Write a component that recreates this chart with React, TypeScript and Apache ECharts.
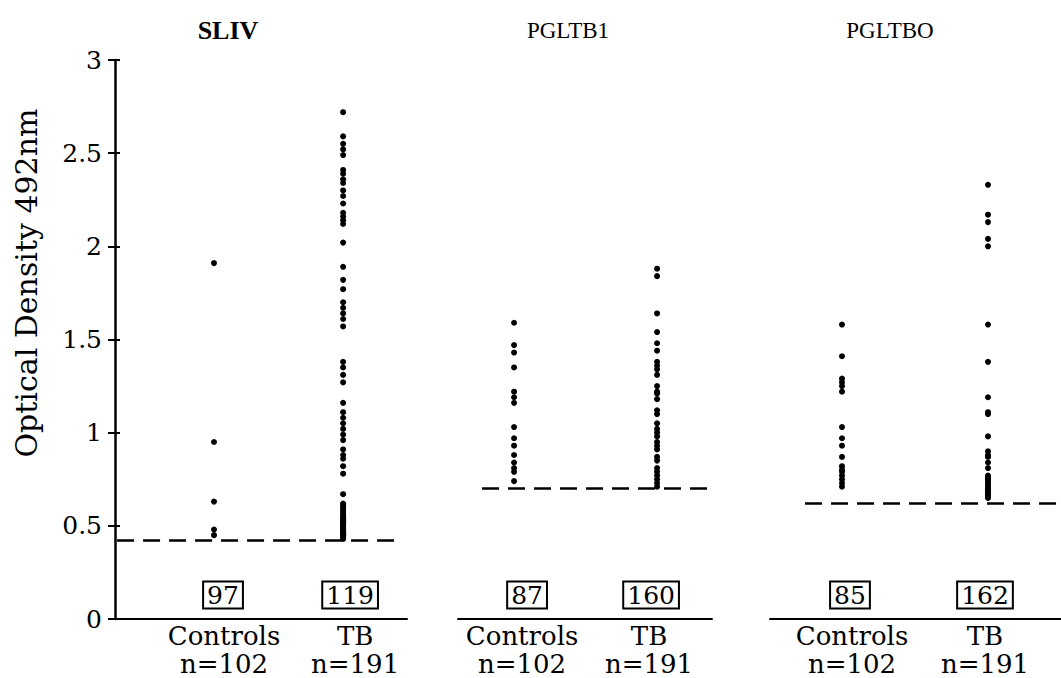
import React, { useEffect, useRef } from "react";
import * as echarts from "echarts";

// ---- data ----
const panelTitles = ["SLIV", "PGLTB1", "PGLTBO"];
const groupNames = ["Controls", "TB"];
const groupSizes = ["n=102", "n=191"];
const yAxisTitle = "Optical Density 492nm";
const cutoffs = [0.42, 0.7, 0.62];
const belowCutoffCounts = [
  [97, 119],
  [87, 160],
  [85, 162],
];
const yTickStep = 0.5;
const yMax = 3;

const slivControls = [1.91, 0.95, 0.63, 0.48, 0.45];
const slivTB = [
  2.72, 2.59, 2.55, 2.52, 2.49, 2.41, 2.39, 2.36, 2.34, 2.3, 2.27, 2.23, 2.18, 2.16, 2.14, 2.12,
  2.02, 1.89, 1.82, 1.77, 1.7, 1.67, 1.64, 1.61, 1.57, 1.38, 1.35, 1.31, 1.27, 1.16, 1.11, 1.08,
  1.05, 1.02, 0.99, 0.96, 0.91, 0.88, 0.86, 0.82, 0.78, 0.67, 0.62, 0.61, 0.6, 0.59, 0.58, 0.57,
  0.56, 0.55, 0.54, 0.53, 0.52, 0.51, 0.5, 0.49, 0.48, 0.47, 0.46, 0.45, 0.44, 0.43, 0.535, 0.525,
  0.515, 0.505, 0.495, 0.485, 0.475, 0.465, 0.455, 0.445,
];
const pgltb1Controls = [1.59, 1.47, 1.43, 1.35, 1.22, 1.19, 1.16, 1.03, 0.97, 0.93, 0.88, 0.84, 0.81, 0.79, 0.74];
const pgltb1TB = [
  1.88, 1.84, 1.64, 1.54, 1.48, 1.44, 1.38, 1.36, 1.34, 1.31, 1.25, 1.22, 1.21, 1.18, 1.12, 1.1,
  1.05, 1.02, 1.0, 0.98, 0.95, 0.93, 0.91, 0.87, 0.85, 0.81, 0.79, 0.77, 0.75, 0.73, 0.71,
];
const pgltboControls = [1.58, 1.41, 1.29, 1.27, 1.25, 1.22, 1.03, 0.97, 0.93, 0.87, 0.82, 0.8, 0.79, 0.77, 0.75, 0.73, 0.71];
const pgltboTB = [
  2.33, 2.17, 2.13, 2.04, 2.0, 1.58, 1.38, 1.19, 1.11, 1.1, 0.98, 0.9, 0.88, 0.87, 0.84, 0.81,
  0.77, 0.76, 0.75, 0.74, 0.73, 0.72, 0.71, 0.7, 0.69, 0.68, 0.67, 0.66, 0.65,
];
const panelData = [
  [slivControls, slivTB],
  [pgltb1Controls, pgltb1TB],
  [pgltboControls, pgltboTB],
];

// ---- layout (styling only) ----
const W = 1061;
const H = 678;
const gridTop = 60;
const gridBottom = 58;
const grids = [
  { left: 115, width: 292 },
  { left: 458, width: 254 },
  { left: 770, width: 291 },
];
const xRanges = [
  [0.233, 2.495],
  [0.608, 2.384],
  [0.507, 2.5],
];
const cutoffSpans = [
  [0.249, 2.402],
  [0.776, 2.349],
  [0.747, 2.473],
];
const labelShiftPx = [
  [10, 12],
  [8, -8],
  [10, -3],
];
const titleX = [228, 568, 890];
const countOffsets = [
  [9, 7],
  [13, -6],
  [8, -3],
];
const SLAB = "'DejaVu Serif', serif";
const SERIF = "'Liberation Serif', 'Times New Roman', serif";
const INK = "#000";

export default function App() {
  const ref = useRef<HTMLDivElement>(null);
  useEffect(() => {
    if (!ref.current) return;
    const chart = echarts.init(ref.current, null, { renderer: "svg" });

    const xAxis: any[] = grids.map((g, i) => {
      const pxPerUnit = g.width / (xRanges[i][1] - xRanges[i][0]);
      return {
        type: "value",
        gridIndex: i,
        min: xRanges[i][0],
        max: xRanges[i][1],
        axisLine: { show: true, onZero: false, lineStyle: { color: INK, width: 2 } },
        axisTick: { show: false },
        splitLine: { show: false },
        axisLabel: {
          show: true,
          customValues: [1 + labelShiftPx[i][0] / pxPerUnit, 2 + labelShiftPx[i][1] / pxPerUnit],
          margin: 3,
          color: INK,
          fontFamily: SLAB,
          fontSize: 26,
          lineHeight: 28,
          formatter: (v: number) => {
            const k = Math.round(v) - 1;
            return groupNames[k] + "\n" + groupSizes[k];
          },
        },
      };
    });

    const yAxis: any[] = [
      {
        type: "value",
        gridIndex: 0,
        position: "left",
        min: 0,
        max: yMax,
        interval: yTickStep,
        axisLine: { show: true, lineStyle: { color: INK, width: 2.5 } },
        axisTick: { show: true, length: 7, lineStyle: { color: INK, width: 2 } },
        axisLabel: {
          margin: 13,
          color: INK,
          fontFamily: SLAB,
          fontSize: 25,
          formatter: (v: number) => String(v),
        },
        splitLine: { show: false },
      },
      {
        type: "value",
        gridIndex: 0,
        position: "left",
        offset: 0,
        min: 0,
        max: yMax,
        interval: yTickStep,
        axisLine: { show: false },
        axisTick: { show: true, inside: true, length: 5, lineStyle: { color: INK, width: 2 } },
        axisLabel: { show: false },
        splitLine: { show: false },
      },
      ...[1, 2].map((g) => ({
        type: "value",
        gridIndex: g,
        min: 0,
        max: yMax,
        interval: yTickStep,
        show: false,
        splitLine: { show: false },
      })),
    ];
    const yIdx = [0, 2, 3];

    const series: any[] = [];
    panelData.forEach((groups, p) => {
      groups.forEach((vals, gi) => {
        const s: any = {
          type: "scatter",
          name: panelTitles[p] + " " + groupNames[gi],
          xAxisIndex: p,
          yAxisIndex: yIdx[p],
          symbol: "circle",
          symbolSize: 6,
          itemStyle: { color: INK, opacity: 1 },
          data: vals.map((v) => [gi + 1, v]),
        };
        if (gi === 0) {
          s.markLine = {
            silent: true,
            symbol: "none",
            label: { show: false },
            lineStyle: { color: INK, width: 2.5, type: [17, 9], opacity: 1 },
            data: [
              [
                { coord: [cutoffSpans[p][0], cutoffs[p]] },
                { coord: [cutoffSpans[p][1], cutoffs[p]] },
              ],
            ],
          };
        }
        series.push(s);
      });
      series.push({
        type: "scatter",
        name: panelTitles[p] + " counts",
        xAxisIndex: p,
        yAxisIndex: yIdx[p],
        symbolSize: 0,
        clip: false,
        silent: true,
        itemStyle: { opacity: 1 },
        data: belowCutoffCounts[p].map((c, gi) => ({
          value: [gi + 1, 0],
          name: String(c),
          label: { offset: [countOffsets[p][gi], -24] },
        })),
        label: {
          show: true,
          position: "inside",
          formatter: "{b}",
          color: INK,
          fontFamily: SLAB,
          fontSize: 25,
          lineHeight: 25,
          borderColor: INK,
          borderWidth: 2,
          padding: [2, 4, 0, 4],
        },
      });
    });

    const graphic: any[] = panelTitles.map((t, i) => ({
      type: "text",
      x: titleX[i],
      y: 30,
      style: {
        text: t,
        textAlign: "center",
        textVerticalAlign: "middle",
        fill: INK,
        font: (i === 0 ? "bold 26px " : "23px ") + SERIF,
      },
    }));
    graphic.push({
      type: "text",
      x: 26,
      y: 283,
      rotation: Math.PI / 2,
      style: {
        text: yAxisTitle,
        textAlign: "center",
        textVerticalAlign: "middle",
        fill: INK,
        font: "30px " + SLAB,
      },
    });

    chart.setOption({
      animation: false,
      backgroundColor: "#fff",
      grid: grids.map((g) => ({ left: g.left, width: g.width, top: gridTop, bottom: gridBottom })),
      xAxis,
      yAxis,
      series,
      graphic,
    });
    return () => chart.dispose();
  }, []);
  return (
    <div
      ref={ref}
      style={{ position: "absolute", left: 0, top: 0, width: W + "px", height: H + "px" }}
    />
  );
}
